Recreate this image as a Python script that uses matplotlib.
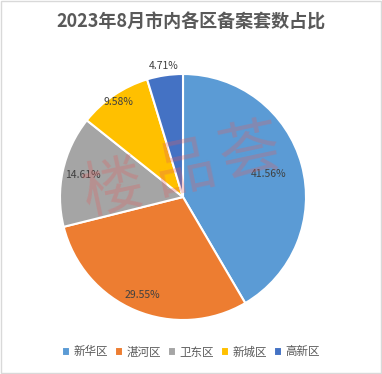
import matplotlib
matplotlib.use("Agg")
import matplotlib.pyplot as plt
import numpy as np
from matplotlib.patches import Rectangle

plt.rcParams['font.family'] = ['Noto Sans CJK SC', 'DejaVu Sans']

title = "2023年8月市内各区备案套数占比"
categories = ["新华区", "湛河区", "卫东区", "新城区", "高新区"]
values = [41.56, 29.55, 14.61, 9.58, 4.71]
colors = ["#5B9BD5", "#ED7D31", "#A5A5A5", "#FFC000", "#4472C4"]
label_dist = [0.72, 0.86, 0.83, 0.93, 1.08]

fig = plt.figure(figsize=(3.82, 3.74), dpi=100)
R = 123
ax = fig.add_axes([(183 - R) / 382, 1 - (197 + R) / 374, 2 * R / 382, 2 * R / 374])
wedges, _ = ax.pie(values, colors=colors, startangle=90, counterclock=False, radius=1,
                   wedgeprops=dict(edgecolor="white", linewidth=1.5))
ax.set_xlim(-1, 1)
ax.set_ylim(-1, 1)
ax.set_aspect('equal')
for w, v, d in zip(wedges, values, label_dist):
    ang = np.deg2rad((w.theta1 + w.theta2) / 2)
    ax.text(d * np.cos(ang), d * np.sin(ang), f"{v:.2f}%", ha='center', va='center',
            fontsize=7.5, color='#404040', clip_on=False)

fig.text(0.5, 1 - 22 / 374, title, ha='center', va='center', fontsize=13,
         fontweight='bold', color='#595959')

fig.legend(wedges, categories, loc='center', bbox_to_anchor=(0.5, 1 - 352 / 374),
           ncol=5, frameon=False, fontsize=8.3, handlelength=0.7, handleheight=0.7,
           handletextpad=0.3, columnspacing=0.6, labelcolor='#595959')

for ch, (x, y) in zip("楼品荟", [(113, 190), (185, 170), (250, 153)]):
    fig.text(x / 382, 1 - y / 374, ch, ha='center', va='center', fontsize=44,
             color='#E06060', alpha=0.3, rotation=12, fontweight='light')

fig.patches.append(Rectangle((0.003, 0.003), 0.994, 0.994, transform=fig.transFigure,
                             fill=False, edgecolor='#D9D9D9', linewidth=1))

fig.savefig("out.png", dpi=100)
